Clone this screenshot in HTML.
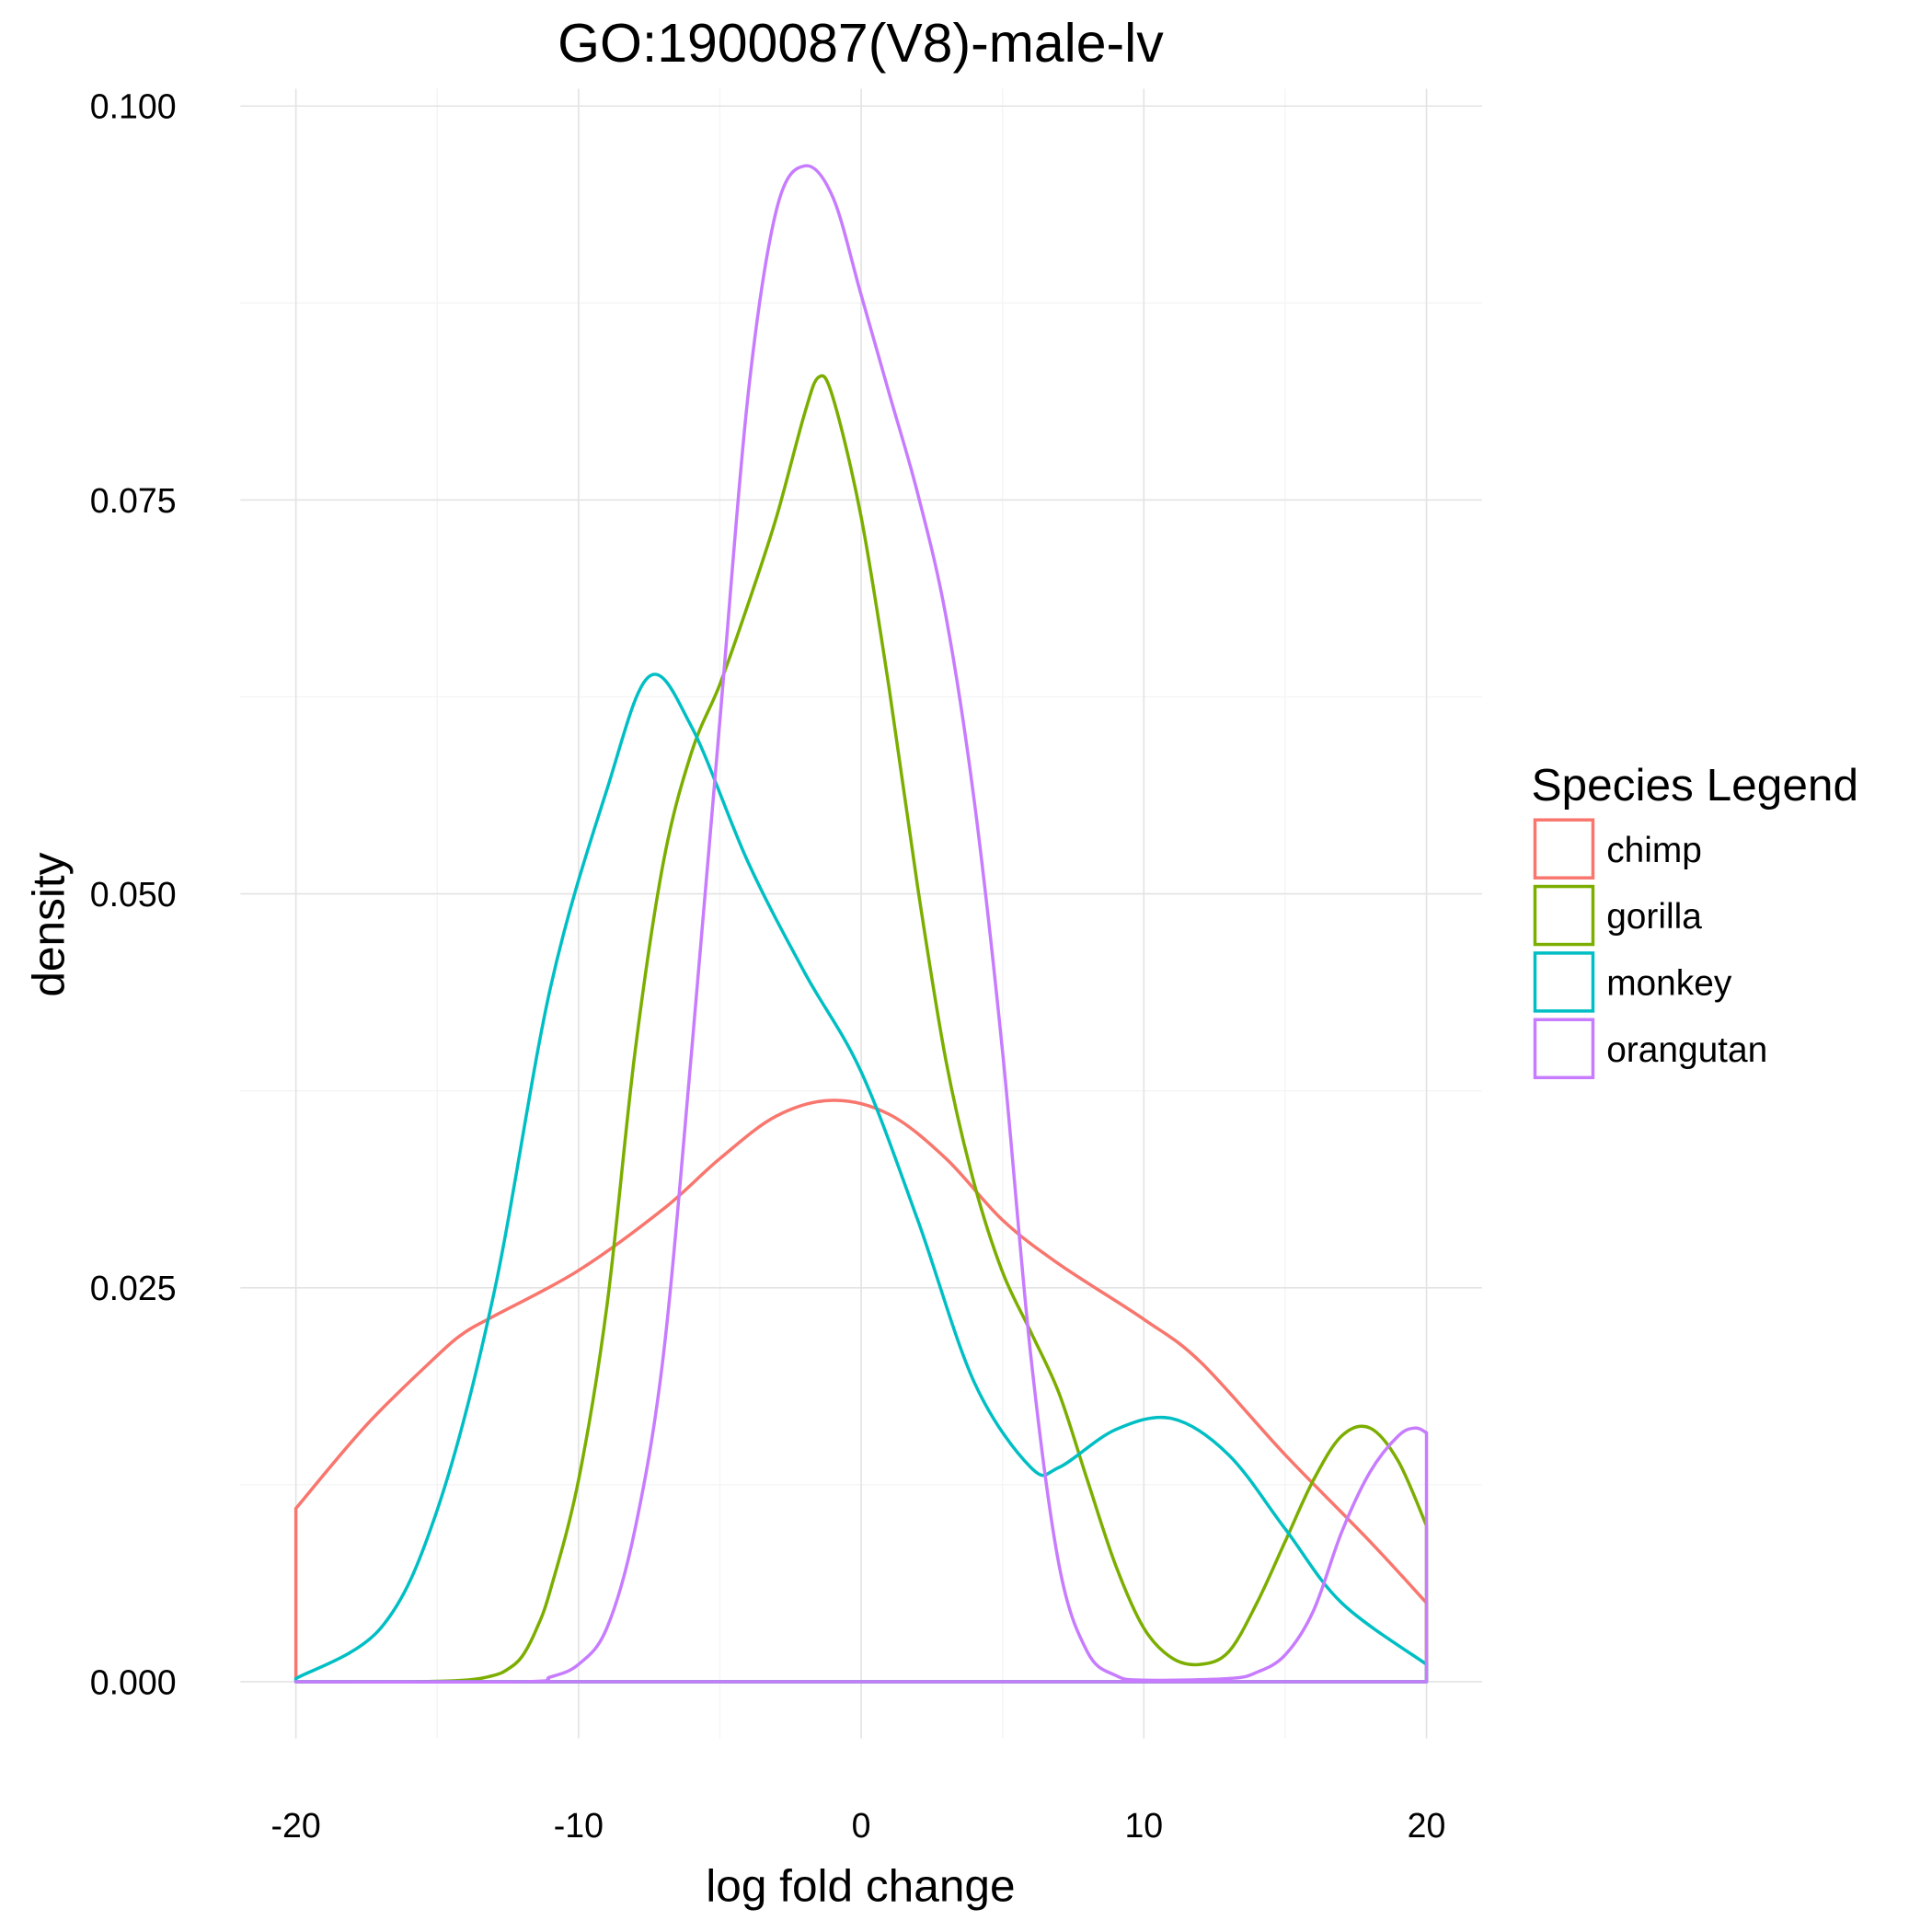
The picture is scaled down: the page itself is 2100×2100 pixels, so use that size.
<!DOCTYPE html>
<html><head><meta charset="utf-8"><style>
html,body{margin:0;padding:0;background:#fff;}
svg{display:block;font-family:"Liberation Sans",Arial,sans-serif;}
</style></head><body>
<svg id="chart" width="2100" height="2100" viewBox="0 0 1567 1567" xmlns="http://www.w3.org/2000/svg">
<text x="698" y="50" font-size="44" text-anchor="middle">GO:1900087(V8)-male-lv</text>
<g id="grid"></g>
<g id="curves"></g>
<g id="axes"></g>
<text x="698" y="1542" font-size="37" text-anchor="middle">log fold change</text>
<text transform="translate(52,750) rotate(-90)" font-size="37" text-anchor="middle">density</text>
<g>
<text x="1242" y="649" font-size="37">Species Legend</text>
<g id="legend-items"></g>
</g>
</svg>
<script>
const species = ["chimp","gorilla","monkey","orangutan"];
const colors = ["#F8766D","#7CAE00","#00BFC4","#C77CFF"];
const xTicks = [-20,-10,0,10,20];
const xMinor = [-15,-5,5,15];
const yTicks = [0,0.025,0.05,0.075,0.1];
const yTickLabels = ["0.000","0.025","0.050","0.075","0.100"];
const yMinor = [0.0125,0.0375,0.0625,0.0875];
const chimpX = [-20,-17.5,-15,-14,-13,-10,-7,-5,-3,-1,1,3,5,7,10,12,15,18,20];
const chimpY = [0.011,0.0163,0.0207,0.0222,0.0232,0.0261,0.030,0.0332,0.0359,0.0369,0.036,0.0332,0.0293,0.0265,0.023,0.0203,0.0144,0.0089,0.005];
const gorillaX = [-20,-16,-14,-13,-12.5,-12,-11.5,-11,-10,-9,-8,-7,-6,-5,-4,-3,-2,-1.5,-1,0,1,2,3,4,5,6,7,8,9,10,11,12,13,14,15,16,17,18,19,20];
const gorillaY = [0,0,0.0001,0.0004,0.0008,0.0016,0.0033,0.0058,0.0128,0.0238,0.040,0.052,0.059,0.0633,0.0684,0.0739,0.0805,0.0828,0.0815,0.0739,0.0629,0.0504,0.0394,0.0316,0.026,0.0222,0.0183,0.0128,0.0074,0.0034,0.0015,0.0011,0.0019,0.005,0.0089,0.0128,0.0156,0.0161,0.014,0.0099];
const monkeyX = [-20,-17,-15,-13,-11,-9,-7.5,-6,-4,-2,0,2,4,6,7,9,11,13,15,17,20];
const monkeyY = [0.0002,0.0034,0.0109,0.0246,0.044,0.0566,0.0638,0.0606,0.052,0.045,0.0387,0.0293,0.019,0.0136,0.0136,0.016,0.0167,0.0144,0.0097,0.005,0.0011];
const orangX = [-20,-12,-11,-10,-9,-8,-7,-6,-5,-4,-3,-2,-1,0,1,2,3,4,5,6,7,8,9,10,13,14,15,16,17,18,19,19.6,20];
const orangY = [0,0,0.0003,0.0011,0.0034,0.0097,0.0207,0.040,0.061,0.0817,0.0934,0.0962,0.0942,0.088,0.0817,0.0754,0.0676,0.0559,0.040,0.0207,0.0074,0.0019,0.0004,0.0001,0.0002,0.0006,0.0017,0.0045,0.0095,0.0133,0.0156,0.0161,0.0158];
const seriesX = [chimpX,gorillaX,monkeyX,orangX];
const seriesY = [chimpY,gorillaY,monkeyY,orangY];

const X0=240,X1=1157,Y0=1364,Y1=86;
const xs = v => X0 + (v+20)/40*(X1-X0);
const ys = v => Y0 - v/0.1*(Y0-Y1);
const NS="http://www.w3.org/2000/svg";
function mk(tag,attrs,parent){const e=document.createElementNS(NS,tag);for(const k in attrs)e.setAttribute(k,attrs[k]);parent.appendChild(e);return e;}
const grid=document.getElementById('grid'), axes=document.getElementById('axes'), curves=document.getElementById('curves');
xMinor.forEach(v=>{const l=mk('line',{x1:xs(v),x2:xs(v),y1:72,y2:1410,stroke:'#f4f4f4','stroke-width':1},grid);

});
yMinor.forEach(v=>{const l=mk('line',{x1:195,x2:1202,y1:ys(v),y2:ys(v),stroke:'#f4f4f4','stroke-width':1},grid);

});
xTicks.forEach(v=>{const l=mk('line',{x1:xs(v),x2:xs(v),y1:72,y2:1410,stroke:'#e3e3e3','stroke-width':1.2},grid);


const t=mk('text',{x:xs(v),y:1490,'font-size':28,'text-anchor':'middle'},axes);t.textContent=String(v);

});
yTicks.forEach((v,i)=>{const l=mk('line',{x1:195,x2:1202,y1:ys(v),y2:ys(v),stroke:'#e3e3e3','stroke-width':1.2},grid);


const t=mk('text',{x:143,y:ys(v)+10,'font-size':28,'text-anchor':'end'},axes);t.textContent=yTickLabels[i];

});
function smooth(pts){let d=`M${pts[0][0]},${pts[0][1]}`;
for(let i=0;i<pts.length-1;i++){const p0=pts[i-1]||pts[i],p1=pts[i],p2=pts[i+1],p3=pts[i+2]||p2;
const c1=[p1[0]+(p2[0]-p0[0])/6,p1[1]+(p2[1]-p0[1])/6],c2=[p2[0]-(p3[0]-p1[0])/6,p2[1]-(p3[1]-p1[1])/6];
d+=` C${c1[0]},${c1[1]} ${c2[0]},${c2[1]} ${p2[0]},${p2[1]}`;}return d;}
species.forEach((s,i)=>{const X=seriesX[i],Y=seriesY[i];
const pts=X.map((x,j)=>[xs(x),ys(Y[j])]);
let d=`M${xs(X[0])},${ys(0)} L`+smooth(pts).slice(1)+` L${xs(X[X.length-1])},${ys(0)} Z`;
const p=mk('path',{d:d,fill:'none',stroke:colors[i],'stroke-width':2.6,'stroke-linejoin':'round'},curves);

});
const li=document.getElementById('legend-items');
species.forEach((s,i)=>{const y=665+i*54;
const r=mk('rect',{x:1245,y:y,width:47,height:47,fill:'none',stroke:colors[i],'stroke-width':2.6},li);


const t=mk('text',{x:1303,y:y+34,'font-size':29},li);t.textContent=s;

});
</script>
</body></html>
